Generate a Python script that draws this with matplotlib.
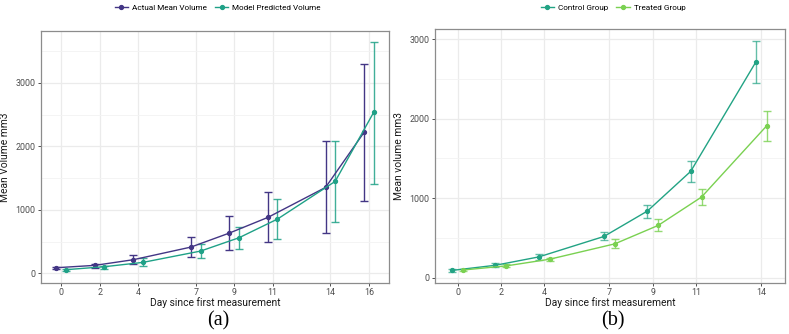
import numpy as np
import matplotlib
matplotlib.use("Agg")
import matplotlib.pyplot as plt
from matplotlib.ticker import MultipleLocator

plt.rcParams["font.family"] = ["Roboto", "DejaVu Sans"]

# panel (a): actual vs model
days_a = [0, 2, 4, 7, 9, 11, 14, 16]
actual_mean = [89, 126, 215, 414, 635, 881, 1353, 2219]
actual_lo = [68, 84, 142, 252, 367, 488, 635, 1138]
actual_hi = [105, 152, 283, 577, 902, 1275, 2077, 3304]
model_mean = [58, 105, 173, 351, 561, 855, 1448, 2533]
model_lo = [37, 73, 121, 236, 378, 540, 808, 1411]
model_hi = [73, 121, 247, 456, 734, 1170, 2088, 3645]

# panel (b): control vs treated
days_b = [0, 2, 4, 7, 9, 11, 14]
control_mean = [90, 155, 260, 517, 836, 1336, 2710]
control_lo = [70, 135, 225, 471, 748, 1202, 2446]
control_hi = [110, 178, 295, 567, 916, 1462, 2971]
treated_mean = [95, 147, 231, 424, 656, 1013, 1908]
treated_lo = [85, 130, 210, 378, 592, 912, 1723]
treated_hi = [108, 165, 252, 479, 731, 1109, 2093]

PURPLE = "#433685"
TEAL = "#1FA187"
TEAL2 = "#22A384"
LIME = "#7AD151"
DODGE = 0.25


def style_axes(ax, xticks, ymajor):
    ax.set_facecolor("white")
    ax.yaxis.set_major_locator(MultipleLocator(ymajor))
    ax.yaxis.set_minor_locator(MultipleLocator(ymajor / 2))
    ax.set_xticks(xticks)
    ax.grid(True, which="major", color="#EBEBEB", linewidth=0.9, zorder=0)
    ax.grid(True, which="minor", axis="y", color="#F3F3F3", linewidth=0.6, zorder=0)
    ax.tick_params(axis="both", which="major", labelsize=6.4, colors="#333333",
                   labelcolor="#4D4D4D", length=2.5, width=0.6, pad=1.5)
    ax.tick_params(axis="y", which="minor", length=0)
    for s in ax.spines.values():
        s.set_color("#8C8C8C")
        s.set_linewidth(0.9)
    ax.set_axisbelow(True)


def draw_series(ax, days, mean, lo, hi, shift, color, label, ealpha=1.0):
    x = np.array(days, dtype=float) + shift
    m = np.array(mean)
    yerr = [m - np.array(lo), np.array(hi) - m]
    ax.errorbar(x, m, yerr=yerr, fmt="none", ecolor=color, elinewidth=1.0,
                capsize=3.2, capthick=1.0, alpha=ealpha, zorder=2)
    ax.plot(x, m, "-o", color=color, linewidth=1.0, markersize=2.8, label=label, zorder=3)


fig = plt.figure(figsize=(7.89, 3.34), dpi=100)
ax1 = fig.add_axes([0.052, 0.153, 0.441, 0.754])
ax2 = fig.add_axes([0.551, 0.153, 0.444, 0.760])

draw_series(ax1, days_a, actual_mean, actual_lo, actual_hi, -DODGE, PURPLE, "Actual Mean Volume")
draw_series(ax1, days_a, model_mean, model_lo, model_hi, DODGE, TEAL, "Model Predicted Volume", 0.85)
style_axes(ax1, days_a, 1000)
ax1.set_xlim(-1.05, 17.05)
ax1.set_ylim(-150, 3815)
ax1.set_ylabel("Mean Volume mm3", fontsize=7.4, color="#1A1A1A")
ax1.set_xlabel("Day since first measurement", fontsize=7.4, color="#1A1A1A")

draw_series(ax2, days_b, control_mean, control_lo, control_hi, -DODGE, TEAL2, "Control Group", 0.7)
draw_series(ax2, days_b, treated_mean, treated_lo, treated_hi, DODGE, LIME, "Treated Group", 0.8)
style_axes(ax2, days_b, 1000)
ax2.set_xlim(-1.05, 15.1)
ax2.set_ylim(-67, 3126)
ax2.set_ylabel("Mean volume mm3", fontsize=7.4, color="#1A1A1A")
ax2.set_xlabel("Day since first measurement", fontsize=7.4, color="#1A1A1A")

for ax in (ax1, ax2):
    ax.yaxis.set_label_coords(-0.088, 0.5)
    ax.xaxis.set_label_coords(0.5, -0.056)

for ax, cx in ((ax1, 0.276), (ax2, 0.777)):
    ax.legend(loc="center", bbox_to_anchor=(cx, 0.978), bbox_transform=fig.transFigure,
              ncol=2, frameon=False, fontsize=5.9, handlelength=1.6, columnspacing=1.0,
              handletextpad=0.5)

fig.text(0.276, 0.038, "(a)", ha="center", va="center", fontsize=14.5, family="Liberation Serif")
fig.text(0.777, 0.038, "(b)", ha="center", va="center", fontsize=14.5, family="Liberation Serif")

fig.savefig("out.png", dpi=100)
